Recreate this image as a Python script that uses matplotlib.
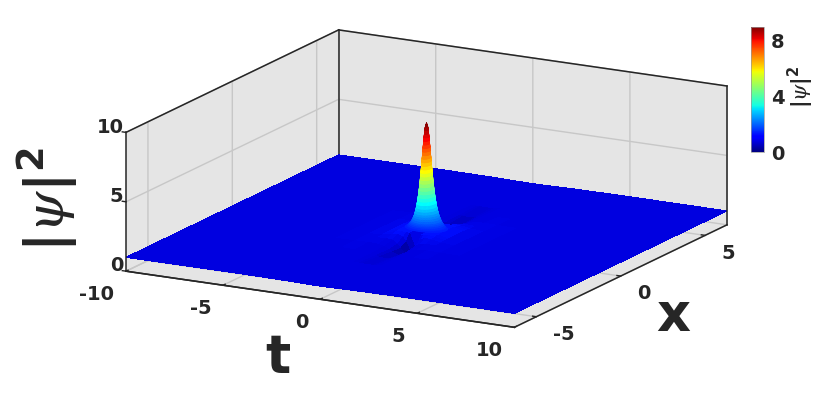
import matplotlib
matplotlib.use("Agg")
import matplotlib.pyplot as plt
import numpy as np
from matplotlib.colors import LinearSegmentedColormap, Normalize
from matplotlib.cm import ScalarMappable
from mpl_toolkits.mplot3d import proj3d

plt.rcParams['axes.unicode_minus'] = False
plt.rcParams['mathtext.fontset'] = 'custom'
plt.rcParams['mathtext.rm'] = 'DejaVu Sans'
plt.rcParams['mathtext.it'] = 'DejaVu Serif:italic'
plt.rcParams['mathtext.bf'] = 'DejaVu Sans:bold'

#floor, one quadrant (t>=0, x>=0), mirrored below ---------------------------
t_nodes = [0, .3, .45, .7, 1, 1.5, 2.2, 3.2, 5, 10]
x_nodes = [0, .3, .45, .65, .87, 1.2, 1.7, 2.5, 3.5, 5, 6.3]
z_quad = [
    [1.40, 1.40, 1.40, .24, .00, .17, .47, .72, .85, .92, .95],
    [1.40, 1.40, 1.40, 1.35, .84, .60, .63, .76, .86, .93, .95],
    [1.40, 1.40, 1.40, 1.40, 1.18, .88, .77, .81, .87, .93, .95],
    [1.40, 1.40, 1.40, 1.40, 1.33, 1.12, .95, .89, .90, .94, .96],
    [1.40, 1.40, 1.40, 1.35, 1.28, 1.17, 1.05, .96, .94, .95, .96],
    [1.22, 1.21, 1.20, 1.19, 1.17, 1.14, 1.09, 1.02, .99, .97, .98],
    [1.10, 1.10, 1.10, 1.10, 1.09, 1.08, 1.07, 1.04, 1.02, 1.00, .99],
    [1.05, 1.05, 1.05, 1.05, 1.05, 1.04, 1.04, 1.03, 1.02, 1.01, 1.00],
    [1.02, 1.02, 1.02, 1.02, 1.02, 1.02, 1.02, 1.02, 1.01, 1.01, 1.01],
    [1.00, 1.00, 1.00, 1.00, 1.00, 1.00, 1.00, 1.00, 1.00, 1.00, 1.00],
]
#the peak as contour rings: height, half width along t, half width along x
peak_z = [1.45, 1.55, 1.6, 1.7, 1.8, 1.9, 2.0, 2.15, 2.3, 2.45, 2.6, 2.8, 3, 3.25, 3.5, 3.75, 4,
          4.25, 4.5, 4.75, 5, 5.25, 5.5, 5.75, 6, 6.25, 6.5, 6.75, 7, 7.25, 7.5, 7.75, 8,
          8.25, 8.5, 8.75, 9]
peak_t = [1.02, .92, .878, .807, .75, .702, .661, .61, .567, .531, .5, .464, .433, .4, .371, .345,
          .323, .302, .283, .266, .25, .235, .22, .207, .194, .181, .169, .156, .144, .132, .12,
          .108, .094, .08, .065, .045, 0]
peak_x = [.451, .442, .438, .429, .421, .413, .405, .394, .384, .374, .365, .352, .341, .327, .314,
          .301, .289, .277, .265, .254, .243, .232, .221, .21, .2, .189, .178, .167, .156, .144,
          .132, .119, .106, .091, .074, .051, 0]
t_ticks = [-10, -5, 0, 5, 10]
t_labels = ['-10', '-5', '0', '5', '10']
x_ticks = [-5, 0, 5]
x_labels = ['-5', '0', '5']
z_ticks = [0, 5, 10]
z_labels = ['0', '5', '10']
cbar_ticks = [0, 4, 8]
cbar_labels = ['0', '4', '8']

dark = '#262626'
t_lo, t_hi = -10, 10
x_lo, x_hi = -6.3, 6.3
z_lo, z_hi = 0, 10

#mirror the quadrant ---------------
t_pos = np.array(t_nodes)
x_pos = np.array(x_nodes)
t_all = np.concatenate([-t_pos[:0:-1], t_pos])
x_all = np.concatenate([-x_pos[:0:-1], x_pos])
z_half = np.array(z_quad)
z_half = np.hstack([z_half[:, :0:-1], z_half])
z_all = np.vstack([z_half[:0:-1], z_half])
T, X = np.meshgrid(t_all, x_all, indexing='ij')

#jet, with the flat sea level held on one blue a little darker than pure blue
surf_cmap = LinearSegmentedColormap.from_list('surf', [
    (0, (0, 0, .42)), (.055, (0, 0, .72)), (.098, (0, 0, .88)), (.115, (0, 0, .88)),
    (.15, (0, .05, 1)), (.375, (0, 1, 1)), (.625, (1, 1, 0)), (.875, (1, 0, 0)), (1, (.5, 0, 0))])
norm = Normalize(0, 9)

fig = plt.figure(figsize=(8.3, 4.13), dpi=100)
ax = fig.add_axes([0, 0, 1, 1], projection='3d', proj_type='ortho', computed_zorder=False)
ax.patch.set_alpha(0)
ax.view_init(elev=15.3, azim=-61.3)
ax.set_box_aspect((1, 1, .325))

ax.plot_surface(T, X, z_all, cmap=surf_cmap, norm=norm, rstride=1, cstride=1, shade=False,
                linewidth=0, antialiased=False, zorder=5)

#peak from the bottom ring up, each band in one colour
angle = np.linspace(0, 2 * np.pi, 49)
for k in range(len(peak_z) - 1):
    bt = np.outer(peak_t[k:k + 2], np.cos(angle))
    bx = np.outer(peak_x[k:k + 2], np.sin(angle))
    bz = np.outer(peak_z[k:k + 2], np.ones_like(angle))
    c = surf_cmap(norm((peak_z[k] + peak_z[k + 1]) / 2))
    ax.plot_surface(bt, bx, bz, color=c, edgecolor=c, rstride=1, cstride=1, shade=False,
                    linewidth=.4, antialiased=True, zorder=10 + k)

#dark box edges the panes do not give ------------
box_w = 1.1
ax.plot([t_lo, t_lo], [x_hi, x_hi], [1, z_hi], color=dark, lw=box_w, zorder=1)
ax.plot([t_lo, t_lo], [x_lo, x_hi], [z_hi, z_hi], color=dark, lw=box_w, zorder=1)
ax.plot([t_lo, t_hi], [x_hi, x_hi], [z_hi, z_hi], color=dark, lw=box_w, zorder=1)
ax.plot([t_lo, t_lo], [x_lo, x_lo], [z_lo, z_hi], color=dark, lw=box_w, zorder=100)
ax.plot([t_hi, t_hi], [x_hi, x_hi], [z_lo, z_hi], color=dark, lw=box_w, zorder=100)

ax.set_xlim(t_lo, t_hi)
ax.set_ylim(x_lo, x_hi)
ax.set_zlim(z_lo, z_hi)
ax.set_xticks(t_ticks, t_labels)
ax.set_yticks(x_ticks, x_labels)
ax.set_zticks(z_ticks, z_labels)

#matlab look for the box ---------------------
ax.zaxis._axinfo['juggled'] = (1, 0, 2)
for axis in (ax.xaxis, ax.yaxis, ax.zaxis):
    axis.set_pane_color((.898, .898, .898, 1))
    axis.line.set_color(dark)
    axis.line.set_linewidth(1.1)
    axis._axinfo['grid']['color'] = (.78, .78, .78, 1)
    axis._axinfo['grid']['linewidth'] = 1.0
    axis._axinfo['tick']['inward_factor'] = 0
    axis._axinfo['tick']['outward_factor'] = .12
    axis._axinfo['tick']['linewidth'] = {True: 1.0, False: .5}
    axis.set_tick_params(colors=dark, labelsize=14, color=dark)
    for lab in axis.get_ticklabels():
        lab.set_fontweight('bold')
for lab in ax.xaxis.get_ticklabels():
    lab.set_ha('right')
for lab in ax.yaxis.get_ticklabels():
    lab.set_ha('left')
for lab in ax.zaxis.get_ticklabels():
    lab.set_ha('right')
    lab.set_va('baseline')
ax.tick_params(axis='x', pad=5)
ax.tick_params(axis='y', pad=2)
ax.tick_params(axis='z', pad=-7)

#fit the box onto the picture: left corner and right corner in pixels -------
want_left = np.array([126, 413 - 271])
want_right = np.array([727, 413 - 225])


def corner(t, x, z):
    a, b, _ = proj3d.proj_transform(t, x, z, ax.get_proj())
    return ax.transData.transform((a, b))


side = 1.5
cx, cy = .5, .5
for i in range(3):
    w = side * 413 / 830
    ax.set_position([cx - w / 2, cy - side / 2, w, side])
    ax.apply_aspect()
    p_left = corner(t_lo, x_lo, z_lo)
    p_right = corner(t_hi, x_hi, z_lo)
    k = (want_right[0] - want_left[0]) / (p_right[0] - p_left[0])
    side = side * k
    cx = cx + ((want_left[0] + want_right[0]) - (p_left[0] + p_right[0])) / 2 / 830
    cy = cy + ((want_left[1] + want_right[1]) - (p_left[1] + p_right[1])) / 2 / 413

#colorbar ------------------------------
cax = fig.add_axes([751 / 830, 1 - 152 / 413, 13 / 830, 125 / 413])
cb = fig.colorbar(ScalarMappable(norm=norm, cmap='jet'), cax=cax)
cb.set_ticks(cbar_ticks, labels=cbar_labels)
cb.ax.tick_params(length=0, labelsize=14, colors=dark, pad=5)
for lab in cb.ax.get_yticklabels():
    lab.set_fontweight('bold')
cb.outline.set_edgecolor('#999999')
cb.outline.set_linewidth(.5)

#big labels --------------------------------
fig.text(278 / 830, 1 - 358 / 413, 't', fontsize=38, fontweight='bold', color=dark,
         ha='center', va='center')
fig.text(673 / 830, 1 - 316 / 413, 'x', fontsize=38, fontweight='bold', color=dark,
         ha='center', va='center')
fig.text(47 / 830, 1 - 200 / 413, r'$\mathbf{|}\psi\mathbf{|^2}$', fontsize=38, color=dark,
         rotation=90, ha='center', va='center')
fig.text(801 / 830, 1 - 87 / 413, r'$\mathbf{|}\psi\mathbf{|^2}$', fontsize=15, color=dark,
         rotation=90, ha='center', va='center')

fig.savefig('out.png', dpi=100)
